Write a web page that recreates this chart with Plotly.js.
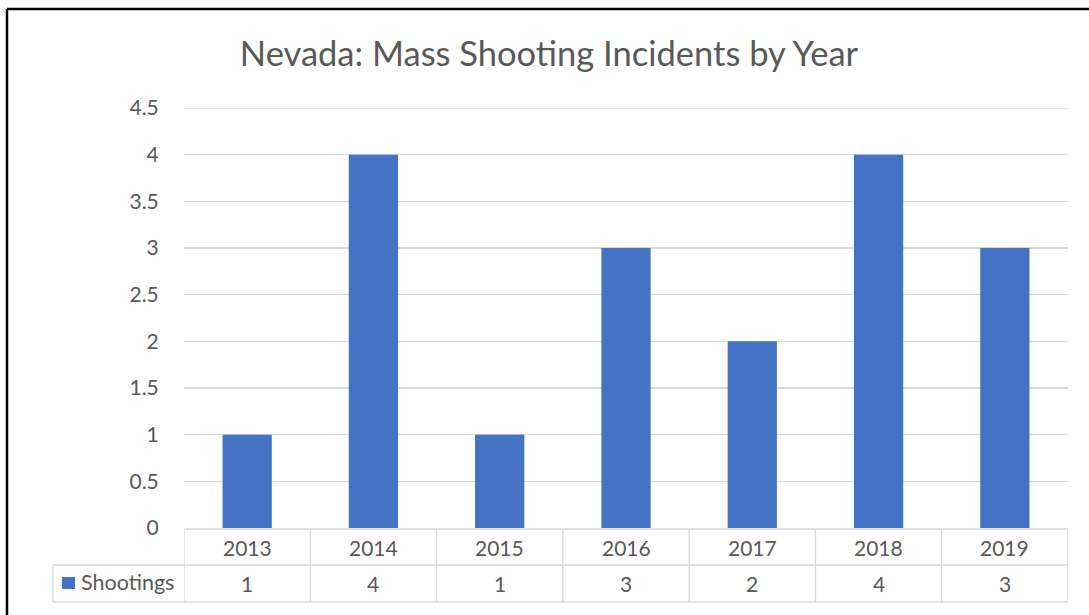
<!DOCTYPE html>
<html>
<head>
<meta charset="utf-8">
<script src="https://cdn.plot.ly/plotly-3.0.1.min.js"></script>
<style>
  html, body { margin: 0; padding: 0; background: #ffffff; }
  #chart { width: 1089px; height: 615px; }
</style>
</head>
<body>
<div id="chart"></div>
<script>
// ---- data ----
const years = ['2013', '2014', '2015', '2016', '2017', '2018', '2019'];
const shootings = [1, 4, 1, 3, 2, 4, 3];
const seriesName = 'Shootings';
const chartTitle = 'Nevada: Mass Shooting Incidents by Year';
const yTicks = [0, 0.5, 1, 1.5, 2, 2.5, 3, 3.5, 4, 4.5];
const yTickText = ['0', '0.5', '1', '1.5', '2', '2.5', '3', '3.5', '4', '4.5'];
const yMax = 4.5;

// ---- layout geometry (pixels) ----
const W = 1089, H = 615;
const L = 184, R = 1068, T = 108, B = 528;
const px = x => (x - L) / (R - L);
const py = y => (B - y) / (B - T);

const textColor = '#595959';
const lineColor = '#D9D9D9';
const barColor = '#4472C4';
const font = 'Lato, Carlito, Calibri, sans-serif';
const labelSize = 21;

const rowTop = 529, rowMid = 565, rowBot = 602, tableLeft = 53;

const shapes = [];
// outer black frame (top and left visible)
shapes.push({type: 'line', xref: 'paper', yref: 'paper', x0: px(7), x1: px(W + 5), y0: py(9), y1: py(9), line: {color: '#000', width: 2.5}});
shapes.push({type: 'line', xref: 'paper', yref: 'paper', x0: px(7), x1: px(7), y0: py(9), y1: py(H + 5), line: {color: '#000', width: 2.5}});
// top gridline (edge of range)
shapes.push({type: 'line', xref: 'paper', yref: 'y', x0: 0, x1: 1, y0: yMax, y1: yMax, line: {color: lineColor, width: 1.3}});
// data table horizontal lines
shapes.push({type: 'line', xref: 'x', yref: 'paper', x0: -0.5, x1: years.length - 0.5, y0: py(rowTop), y1: py(rowTop), line: {color: lineColor, width: 1.3}});
shapes.push({type: 'line', xref: 'paper', yref: 'paper', x0: px(tableLeft), x1: 1, y0: py(rowMid), y1: py(rowMid), line: {color: lineColor, width: 1.3}});
shapes.push({type: 'line', xref: 'paper', yref: 'paper', x0: px(tableLeft), x1: 1, y0: py(rowBot), y1: py(rowBot), line: {color: lineColor, width: 1.3}});
// left border of series row
shapes.push({type: 'line', xref: 'paper', yref: 'paper', x0: px(tableLeft), x1: px(tableLeft), y0: py(rowMid), y1: py(rowBot), line: {color: lineColor, width: 1.3}});
// column separators
for (let i = 0; i <= years.length; i++) {
  shapes.push({type: 'line', xref: 'x', yref: 'paper', x0: i - 0.5, x1: i - 0.5, y0: py(rowTop), y1: py(rowBot), line: {color: lineColor, width: 1.3}});
}
// legend key square
shapes.push({type: 'rect', xref: 'paper', yref: 'paper', x0: px(62), x1: px(75), y0: py(577), y1: py(589), fillcolor: barColor, line: {width: 0}});

const annotations = [];
years.forEach((yr, i) => {
  annotations.push({xref: 'x', yref: 'paper', x: i, y: py(547), text: yr, showarrow: false, xanchor: 'center', yanchor: 'middle', font: {family: font, size: labelSize, color: textColor}});
  annotations.push({xref: 'x', yref: 'paper', x: i, y: py(583), text: String(shootings[i]), showarrow: false, xanchor: 'center', yanchor: 'middle', font: {family: font, size: labelSize, color: textColor}});
});
annotations.push({xref: 'paper', yref: 'paper', x: px(79), y: py(582), text: seriesName, showarrow: false, xanchor: 'left', yanchor: 'middle', font: {family: font, size: labelSize + 0.5, color: textColor}});

const data = [{
  type: 'bar',
  x: years,
  y: shootings,
  name: seriesName,
  marker: {color: barColor, line: {width: 0}},
  hoverinfo: 'x+y'
}];

const layout = {
  width: W, height: H,
  margin: {l: L, r: W - R, t: T, b: H - B, pad: 0},
  paper_bgcolor: '#ffffff',
  plot_bgcolor: '#ffffff',
  showlegend: false,
  bargap: 0.61,
  title: {
    text: chartTitle,
    font: {family: font, size: 34.5, color: textColor},
    xref: 'container', x: 549 / W, xanchor: 'center',
    yref: 'container', y: 1 - 54 / H, yanchor: 'middle'
  },
  xaxis: {
    type: 'category',
    range: [-0.5, years.length - 0.5],
    showticklabels: false,
    showgrid: false,
    zeroline: false,
    showline: false,
    ticks: '',
    fixedrange: true
  },
  yaxis: {
    range: [0, yMax],
    tickvals: yTicks,
    ticktext: yTickText,
    showgrid: true,
    gridcolor: lineColor,
    gridwidth: 1.3,
    zeroline: false,
    showline: false,
    ticks: 'outside',
    ticklen: 20,
    tickcolor: 'rgba(0,0,0,0)',
    tickfont: {family: font, size: labelSize, color: textColor},
    fixedrange: true
  },
  shapes: shapes,
  annotations: annotations,
  font: {family: font, color: textColor}
};

Plotly.newPlot('chart', data, layout, {displayModeBar: false, staticPlot: true});
</script>
</body>
</html>
